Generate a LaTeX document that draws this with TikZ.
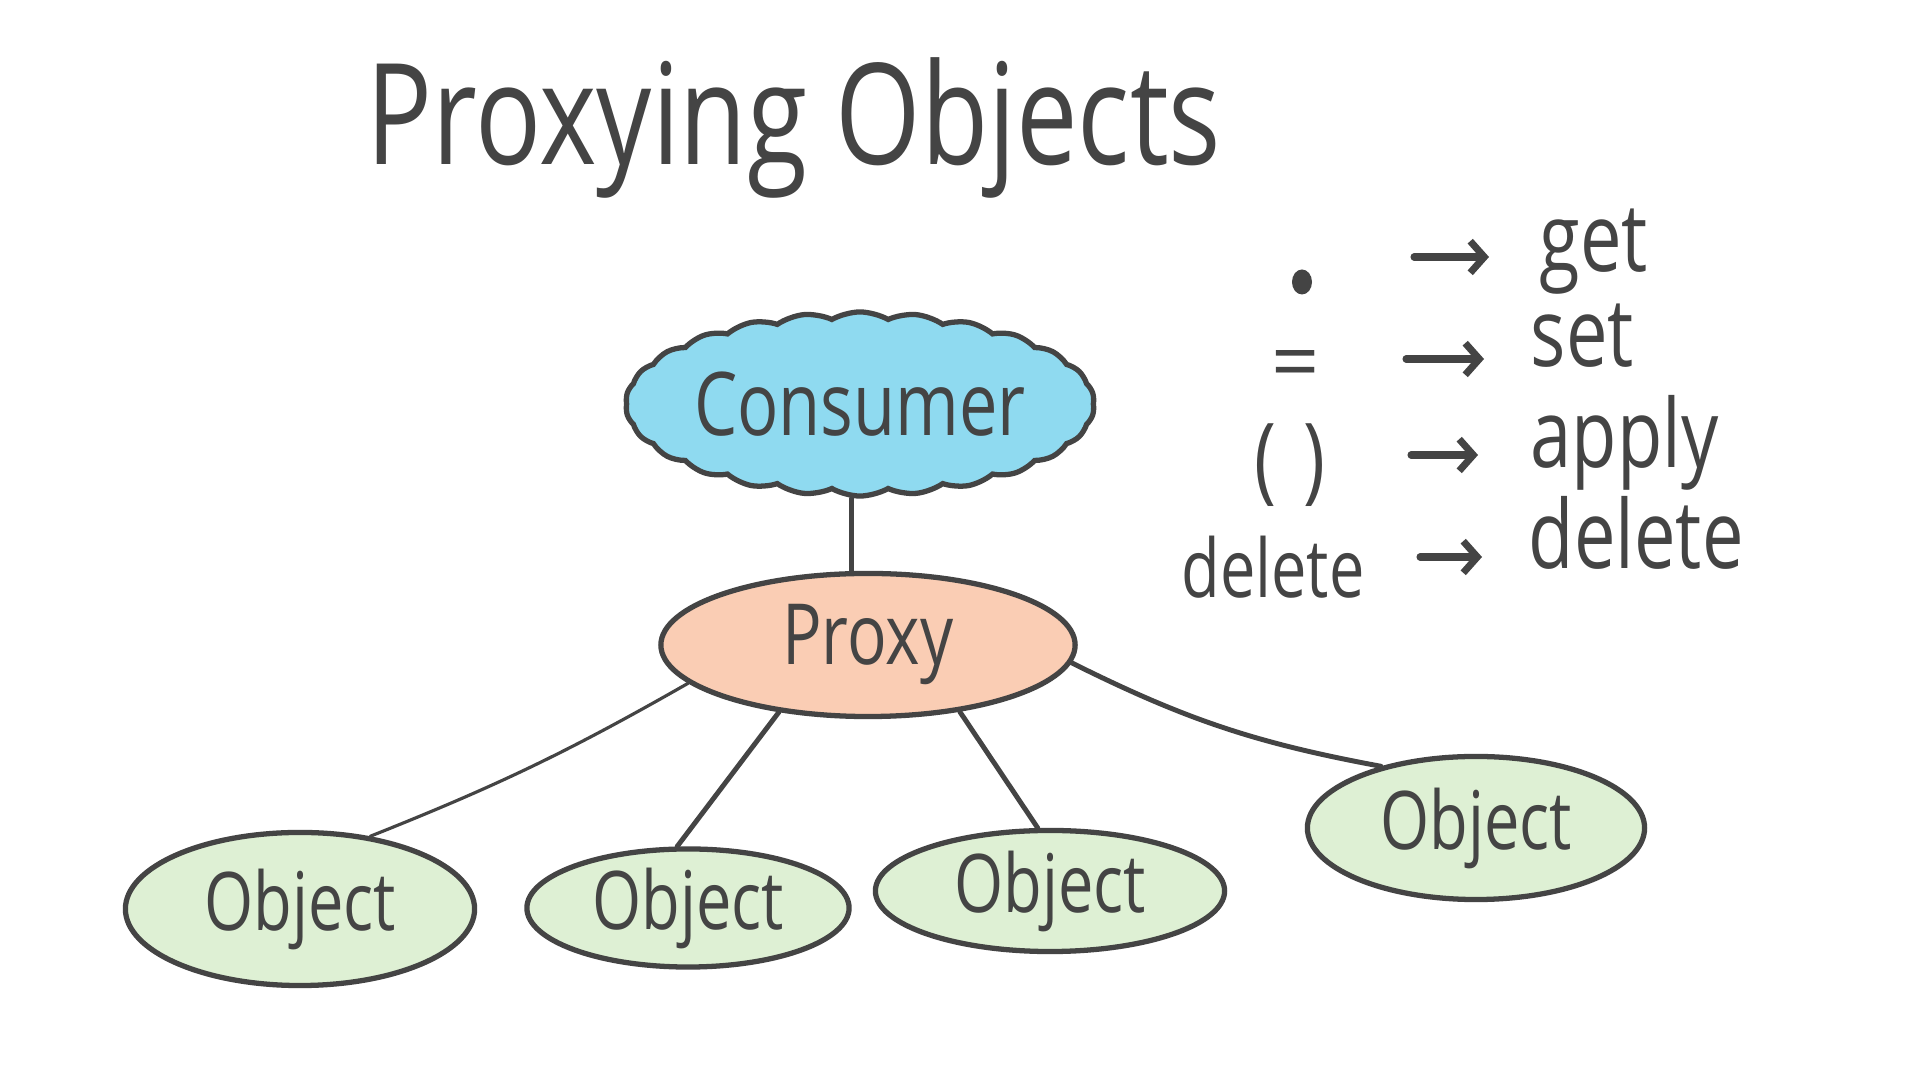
\documentclass[tikz,border=0pt]{standalone}
\usepackage{fontspec}
\newfontfamily\handfont[FakeStretch=0.78]{Open Sans}
\newfontfamily\plainfont{Open Sans}
\usepackage{tikz}
\usetikzlibrary{shapes.geometric, shapes.symbols, arrows.meta, calc}
\definecolor{inkgrey}{RGB}{68,68,68}
\definecolor{skyblue}{RGB}{143,218,240}
\definecolor{peach}{RGB}{250,205,180}
\definecolor{leafgreen}{RGB}{222,240,212}
\tikzset{
  consumernode/.style={cloud, cloud puffs=26, cloud puff arc=60, cloud ignores aspect,
    draw=inkgrey, fill=skyblue, line width=1.5pt, inner sep=0pt,
    minimum width=4.35cm, minimum height=1.84cm,
    font=\handfont\fontsize{25}{30}\selectfont, text=inkgrey},
  proxynode/.style={ellipse, draw=inkgrey, fill=peach, line width=1.5pt, inner sep=0pt,
    minimum width=4.14cm, minimum height=1.43cm,
    font=\handfont\fontsize{24}{28}\selectfont, text=inkgrey},
  objnode/.style={ellipse, draw=inkgrey, fill=leafgreen, line width=1.5pt, inner sep=0pt,
    font=\handfont\fontsize{23}{28}\selectfont, text=inkgrey},
  symnode/.style={font=\handfont\fontsize{27}{32}\selectfont, text=inkgrey, inner sep=0pt},
  dotnode/.style={ellipse, fill=inkgrey, draw=none, inner sep=0pt, minimum width=0.2cm, minimum height=0.25cm},
  opnode/.style={anchor=base west, font=\handfont\fontsize{27}{32}\selectfont, text=inkgrey, inner sep=0pt},
  link/.style={line width=1.4pt, color=inkgrey, line cap=round},
  thinlink/.style={line width=0.9pt, color=inkgrey, line cap=round},
  maparrow/.style={-{Straight Barb[length=4pt, width=9pt]}, line width=2pt, color=inkgrey, line cap=round}
}

\begin{document}
\begin{tikzpicture}[x=0.01cm, y=-0.01cm]
  \useasboundingbox (0,0) rectangle (1920,1080);
  \fill[white] (0,0) rectangle (1920,1080);

  % Title
  \node[anchor=base, font=\handfont\fontsize{40}{48}\selectfont, text=inkgrey] (title) at (794,165) {Proxying Objects};

  % Consumer and proxy
  \node[consumernode] (consumer) at (860,404) {Consumer};
  \node[proxynode] (proxy) at (868,645) {Proxy};
  \draw[link] ([xshift=-2.5pt]consumer.south) -- ([xshift=-2.5pt]consumer.south |- proxy.north);

  % Objects
  \node[objnode, minimum width=3.49cm, minimum height=1.53cm] (obj1) at (300,909) {Object};
  \node[objnode, minimum width=3.22cm, minimum height=1.18cm] (obj2) at (688,908) {Object};
  \node[objnode, minimum width=3.49cm, minimum height=1.21cm] (obj3) at (1050,891) {Object};
  \node[objnode, minimum width=3.37cm, minimum height=1.43cm] (obj4) at (1476,828) {Object};

  \draw[thinlink] (proxy.192) to[bend left=4] (obj1.46);
  \draw[link] (proxy.217) -- (obj2.100);
  \draw[link] (proxy.324) -- (obj3.101);
  \draw[link] (proxy.355) to[bend right=8] (obj4.147);

  % Operator legend
  \node[dotnode] (dot) at (1302,282) {};
  \node[symnode, font=\plainfont\fontsize{24}{28}\selectfont] (eq) at (1296,371) {=};
  \node[symnode] (paren) at (1290,465) {(\;)};
  \node[symnode, anchor=base, font=\handfont\fontsize{23}{28}\selectfont] (del) at (1273,598) {delete};

  \node[opnode] (get) at (1539,272) {get};
  \node[opnode] (set) at (1530,367) {set};
  \node[opnode] (apply) at (1530,468) {apply};
  \node[opnode] (delop) at (1528,569) {delete};

  \draw[maparrow] ($(get.base west)+(-125,-15)$) -- ($(get.base west)+(-50,-15)$);
  \draw[maparrow] ($(set.base west)+(-124,-8)$) -- ($(set.base west)+(-46,-8)$);
  \draw[maparrow] ($(apply.base west)+(-119,-13)$) -- ($(apply.base west)+(-52,-13)$);
  \draw[maparrow] ($(delop.base west)+(-108,-12)$) -- ($(delop.base west)+(-46,-12)$);

\end{tikzpicture}
\end{document}
